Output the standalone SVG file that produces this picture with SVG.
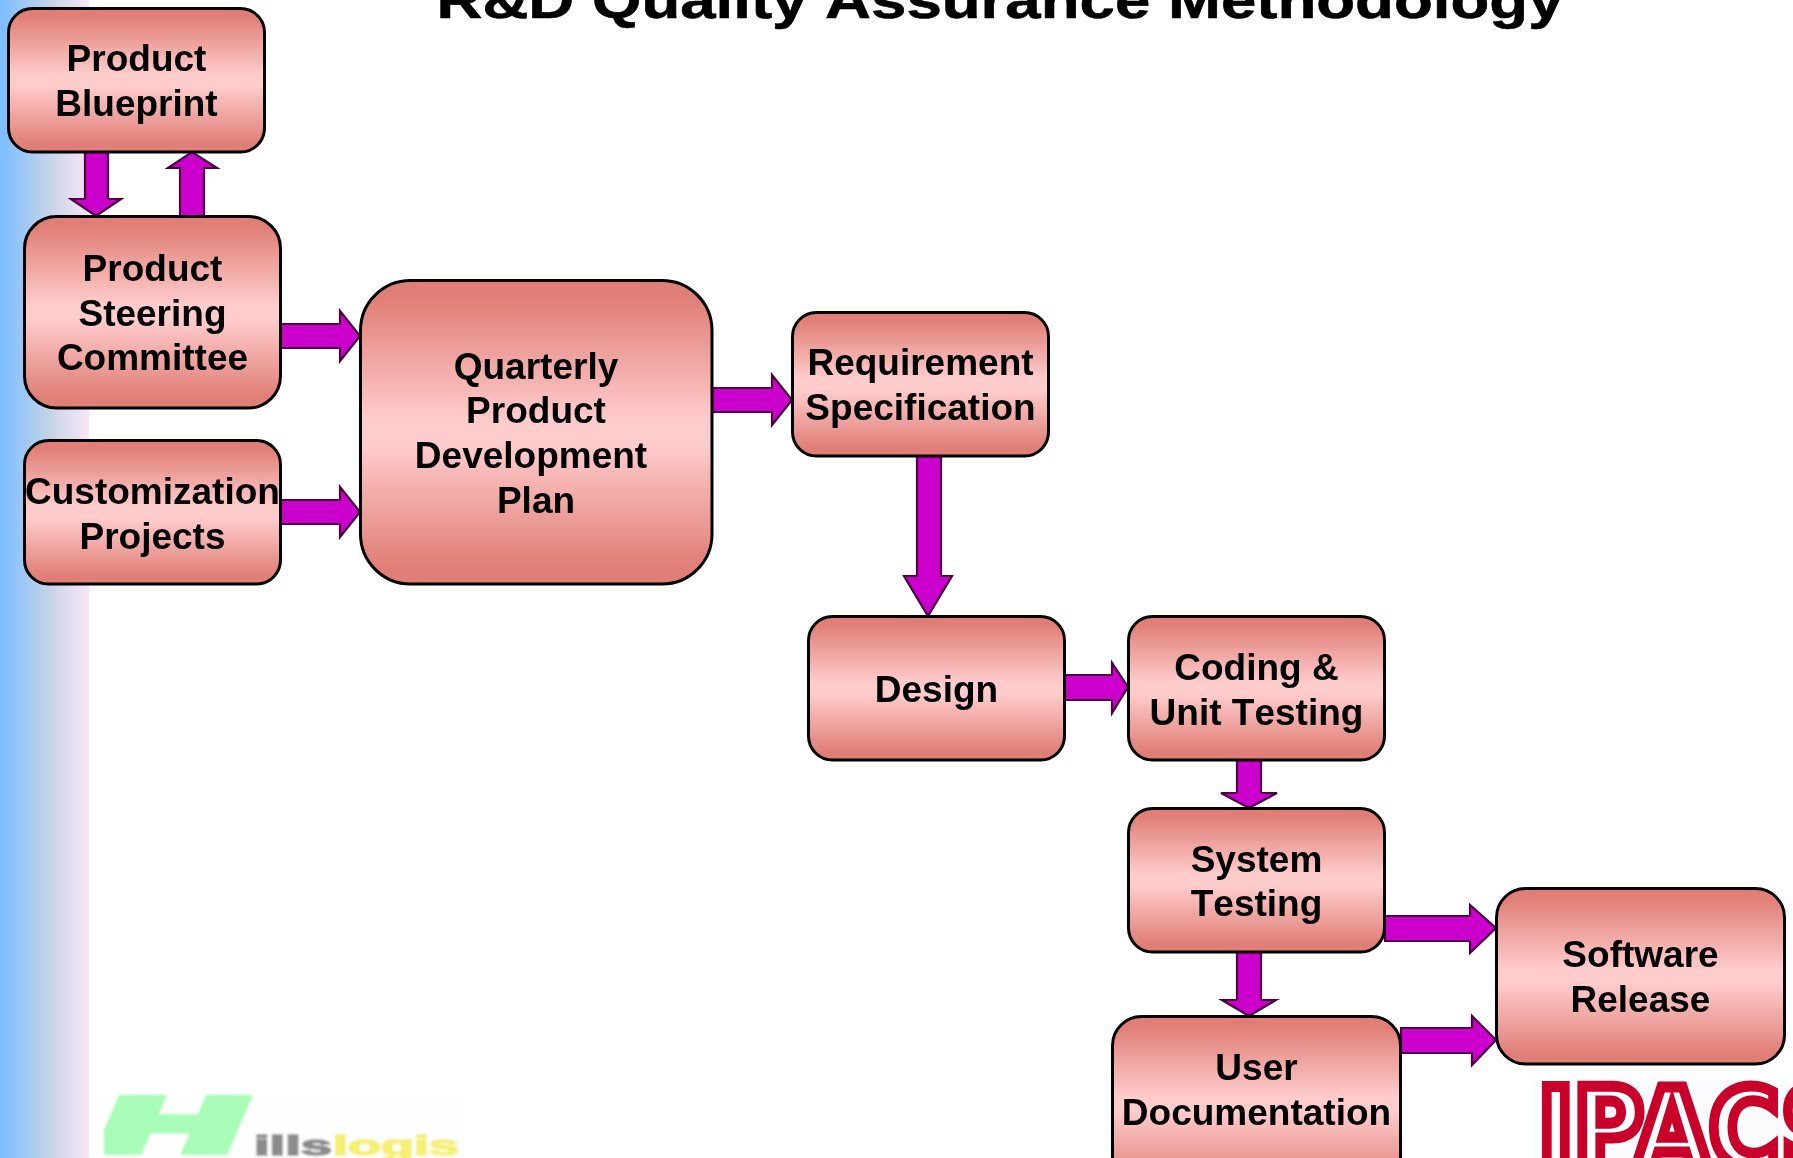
<svg xmlns="http://www.w3.org/2000/svg" width="1793" height="1158" viewBox="0 0 1793 1158">
<style>
.box{fill:url(#nodeFill);stroke:#000;stroke-width:3}
.lbl{font:bold 37px "Liberation Sans",Arial,sans-serif;fill:#000;text-anchor:middle;font-kerning:none}
.arrow{fill:#cc00cc;stroke:#4a0040;stroke-width:2.2;stroke-linejoin:miter}
</style>
<defs>
<linearGradient id="nodeFill" x1="0" y1="0" x2="0" y2="1">
<stop offset="0.06" stop-color="#e07f77"/><stop offset="0.46" stop-color="#ffcccc"/><stop offset="0.54" stop-color="#ffcccc"/><stop offset="0.94" stop-color="#e07f77"/>
</linearGradient>
<linearGradient id="side" x1="0" y1="0" x2="1" y2="0">
<stop offset="0.05" stop-color="#80bfff"/><stop offset="0.55" stop-color="#c4d4e8"/><stop offset="1" stop-color="#fae6f6"/>
</linearGradient>
<filter id="soft" x="-5%" y="-5%" width="110%" height="110%"><feGaussianBlur stdDeviation="0.9"/></filter>
<clipPath id="hclip"><rect x="104" y="1095" width="356" height="60"/></clipPath>
</defs>
<rect width="1793" height="1158" fill="#fff"/>
<rect x="0" y="0" width="89" height="1158" fill="url(#side)"/>
<text x="1000" y="18" text-anchor="middle" style="font:bold 52px 'Liberation Sans',Arial,sans-serif;font-kerning:none" stroke="#000" stroke-width="0.6" textLength="1127" lengthAdjust="spacingAndGlyphs">R&amp;D Quality Assurance Methodology</text>
<g id="logo-hillslogis" filter="url(#soft)">
<rect x="104" y="1095" width="356" height="63" fill="#fdfefd"/>
<g clip-path="url(#hclip)"><text x="100" y="1155" style="font:italic bold 88px 'Liberation Sans',sans-serif" fill="#a8fcb8" stroke="#a8fcb8" stroke-width="9" textLength="140" lengthAdjust="spacingAndGlyphs">H</text></g>
<text x="254" y="1155" style="font:bold 27px 'Liberation Sans',sans-serif" fill="#8c8c8c" stroke="#8c8c8c" stroke-width="1.500" textLength="78" lengthAdjust="spacingAndGlyphs">ills</text>
<text x="333" y="1155" style="font:bold 27px 'Liberation Sans',sans-serif" fill="#f6ef70" stroke="#f6ef70" stroke-width="1.500" textLength="126" lengthAdjust="spacingAndGlyphs">logis</text>
</g>
<g id="logo-ipacs">
<rect x="1530" y="1079" width="263" height="79" fill="#fbfcfd"/>
<text x="1538" y="1166" style="font:bold 108px 'DejaVu Sans',sans-serif" fill="#fff" stroke="#c8002a" stroke-width="11" textLength="312" lengthAdjust="spacingAndGlyphs">IPACS</text>
</g>
<g id="connectors">
<path class="arrow" d="M85 152V199H71L96 216L121 199H108V152Z"/>
<path class="arrow" d="M180 216V168H168L192 152L217 168H204V216Z"/>
<path class="arrow" d="M281 324H340V311L360 336L340 361V348H281Z"/>
<path class="arrow" d="M281 500H340V487L360 512L340 537V524H281Z"/>
<path class="arrow" d="M712 388H772V375L792 400L772 425V412H712Z"/>
<path class="arrow" d="M917 456V576H904L928 616L952 576H941V456Z"/>
<path class="arrow" d="M1065 675H1112V663L1128 687L1112 713V700H1065Z"/>
<path class="arrow" d="M1237 760V793H1221L1249 808L1277 793H1261V760Z"/>
<path class="arrow" d="M1237 952V1000H1222L1249 1016L1276 1000H1261V952Z"/>
<path class="arrow" d="M1385 916H1470V905L1496 928L1470 953V941H1385Z"/>
<path class="arrow" d="M1401 1028H1472V1016L1496 1040L1472 1065V1053H1401Z"/>
</g>
<g id="product-blueprint"><rect class="box" x="8.500" y="8.500" width="256" height="143.500" rx="24"/><text class="lbl" x="136.500" y="71">Product</text><text class="lbl" x="136.500" y="116">Blueprint</text></g>
<g id="product-steering-committee"><rect class="box" x="24.500" y="216.500" width="256" height="191.500" rx="32"/><text class="lbl" x="152.500" y="281">Product</text><text class="lbl" x="152.500" y="326">Steering</text><text class="lbl" x="152.500" y="370">Committee</text></g>
<g id="customization-projects"><rect class="box" x="24.500" y="440.500" width="256" height="143.500" rx="24"/><text class="lbl" x="152.500" y="504">Customization</text><text class="lbl" x="152.500" y="549">Projects</text></g>
<g id="quarterly-plan"><rect class="box" x="360.500" y="280.500" width="351.500" height="303.500" rx="50"/><text class="lbl" x="536" y="379">Quarterly</text><text class="lbl" x="536" y="423">Product</text><text class="lbl" x="531" y="468">Development</text><text class="lbl" x="536" y="513">Plan</text></g>
<g id="requirement-specification"><rect class="box" x="792.500" y="312.500" width="256" height="143.500" rx="24"/><text class="lbl" x="920.500" y="375">Requirement</text><text class="lbl" x="920.500" y="420">Specification</text></g>
<g id="design"><rect class="box" x="808.500" y="616.500" width="256" height="143.500" rx="24"/><text class="lbl" x="936.500" y="702">Design</text></g>
<g id="coding-unit-testing"><rect class="box" x="1128.500" y="616.500" width="256" height="143.500" rx="24"/><text class="lbl" x="1256.500" y="680">Coding &amp;</text><text class="lbl" x="1256.500" y="725">Unit Testing</text></g>
<g id="system-testing"><rect class="box" x="1128.500" y="808.500" width="256" height="143.500" rx="24"/><text class="lbl" x="1256.500" y="872">System</text><text class="lbl" x="1256.500" y="916">Testing</text></g>
<g id="software-release"><rect class="box" x="1496.500" y="888.500" width="288" height="175.500" rx="29"/><text class="lbl" x="1640.500" y="967">Software</text><text class="lbl" x="1640.500" y="1012">Release</text></g>
<g id="user-documentation"><rect class="box" x="1112.500" y="1016.500" width="288" height="175.500" rx="29"/><text class="lbl" x="1256.500" y="1080">User</text><text class="lbl" x="1256.500" y="1125">Documentation</text></g>
</svg>
